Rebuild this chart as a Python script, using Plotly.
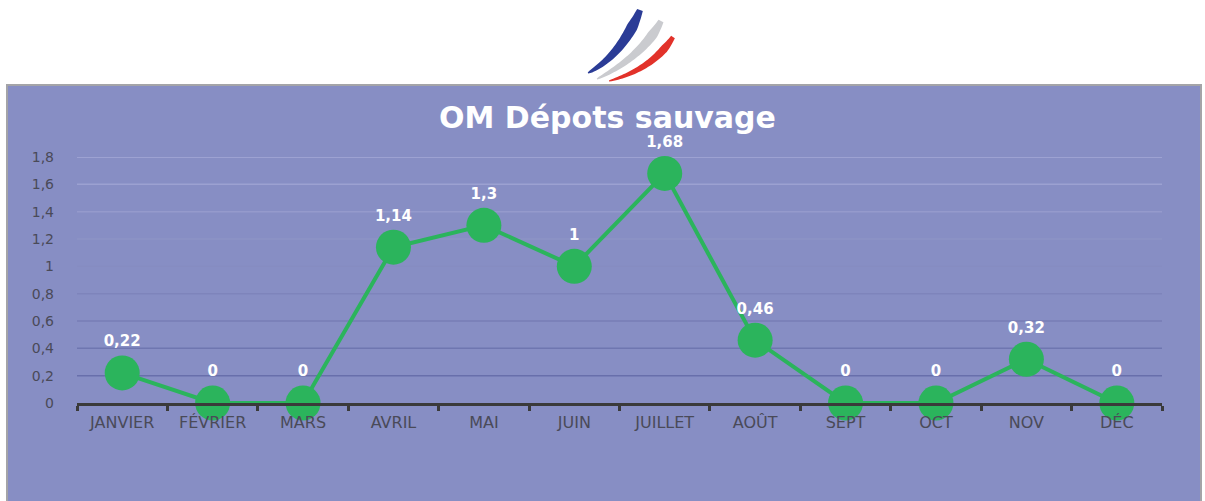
import numpy as np
import plotly.graph_objects as go

# Monthly values for "OM Dépots sauvage"
months = ["JANVIER", "FÉVRIER", "MARS", "AVRIL", "MAI", "JUIN",
          "JUILLET", "AOÛT", "SEPT", "OCT", "NOV", "DÉC"]
values = [0.22, 0, 0, 1.14, 1.3, 1, 1.68, 0.46, 0, 0, 0.32, 0]
y_tick_vals = [0, 0.2, 0.4, 0.6, 0.8, 1.0, 1.2, 1.4, 1.6, 1.8]
y_tick_text = ["0", "0,2", "0,4", "0,6", "0,8", "1", "1,2", "1,4", "1,6", "1,8"]
chart_title = "OM Dépots sauvage"

W, H = 1205, 501
ML, MR, MT, MB = 77, 43, 157, 98
PW, PH = W - ML - MR, H - MT - MB


def px_to_paper(px, py):
    return (px - ML) / PW, (H - MB - py) / PH


def fmt(v):
    return ("%g" % v).replace(".", ",")


GREEN = "#2BB45C"
BG = "#878EC4"

fig = go.Figure()
fig.add_trace(go.Scatter(
    x=months, y=values,
    mode="lines+markers+text",
    line=dict(color=GREEN, width=4),
    marker=dict(color=GREEN, size=35, line=dict(width=0)),
    text=[fmt(v) for v in values],
    textposition="top center",
    textfont=dict(family="DejaVu Sans", size=15, color="white", weight="bold"),
    cliponaxis=False,
    hoverinfo="skip",
))

shapes = []
# panel background
x0, y0 = px_to_paper(7, 85)
x1, y1 = px_to_paper(1201, 503)
shapes.append(dict(type="rect", xref="paper", yref="paper",
                   x0=x0, y0=y1, x1=x1, y1=y0,
                   fillcolor=BG, line=dict(color="#A4A4A8", width=2),
                   layer="below"))

# horizontal gridlines, shading from light at the top to darker at the bottom
light = np.array([0xA4, 0xA9, 0xD7])
dark = np.array([0x68, 0x6F, 0xAB])
for v in y_tick_vals[1:]:
    t = (v - 0.2) / 1.6
    c = dark + (light - dark) * t
    col = "rgb(%d,%d,%d)" % tuple(c.astype(int))
    shapes.append(dict(type="line", xref="paper", yref="y",
                       x0=0, x1=1, y0=v, y1=v,
                       line=dict(color=col, width=1.5), layer="below"))


# tricolour brush-stroke emblem
def stroke_path(p0, c, p1, wmax, n=40):
    p0, c, p1 = map(np.array, (p0, c, p1))
    ts = np.linspace(0, 1, n)
    left, right = [], []
    for t in ts:
        p = (1 - t) ** 2 * p0 + 2 * (1 - t) * t * c + t ** 2 * p1
        d = 2 * (1 - t) * (c - p0) + 2 * t * (p1 - c)
        nrm = np.array([-d[1], d[0]]) / np.hypot(*d)
        if t < 0.8:
            w = wmax * (0.1 + 0.9 * (t / 0.8) ** 0.6)
        else:
            w = wmax * (1 - 0.45 * (t - 0.8) / 0.2)
        left.append(p + nrm * w / 2)
        right.append(p - nrm * w / 2)
    poly = left + right[::-1]
    segs = []
    for i, (qx, qy) in enumerate(poly):
        ax, ay = px_to_paper(qx, qy)
        segs.append(("M" if i == 0 else "L") + "%.5f,%.5f" % (ax, ay))
    return " ".join(segs) + " Z"


emblem = [
    ((588, 73), (622, 55), (640, 10), 11, "#2B3C96"),
    ((597, 79), (643, 56), (661, 21), 10, "#CACBCF"),
    ((609, 81), (653, 69), (673, 37), 8, "#E2322A"),
]
for p0, c, p1, w, col in emblem:
    shapes.append(dict(type="path", xref="paper", yref="paper",
                       path=stroke_path(p0, c, p1, w),
                       fillcolor=col, line=dict(width=0), layer="above"))

tx, ty = px_to_paper(607, 117)
fig.update_layout(
    width=W, height=H,
    margin=dict(l=ML, r=MR, t=MT, b=MB),
    paper_bgcolor="white",
    plot_bgcolor="rgba(0,0,0,0)",
    showlegend=False,
    shapes=shapes,
    annotations=[dict(
        text=chart_title, xref="paper", yref="paper", x=tx, y=ty,
        showarrow=False, xanchor="center", yanchor="middle",
        font=dict(family="DejaVu Sans", size=30, color="white", weight="bold"),
    )],
    xaxis=dict(
        type="category", range=[-0.5, 11.5],
        showgrid=False, zeroline=False,
        showline=True, linecolor="#3A3A3A", linewidth=3,
        ticks="outside", tickson="boundaries", ticklen=5, tickwidth=3,
        tickcolor="#3A3A3A",
        tickfont=dict(family="DejaVu Sans", size=16, color="#4A4A58"),
        ticklabelstandoff=3,
    ),
    yaxis=dict(
        range=[0, 1.8], showgrid=False, zeroline=False, showline=False,
        tickvals=y_tick_vals, ticktext=y_tick_text,
        tickfont=dict(family="DejaVu Sans", size=14, color="#4A4A58"),
        ticklabelstandoff=22,
    ),
)

fig.write_html("out.html")
